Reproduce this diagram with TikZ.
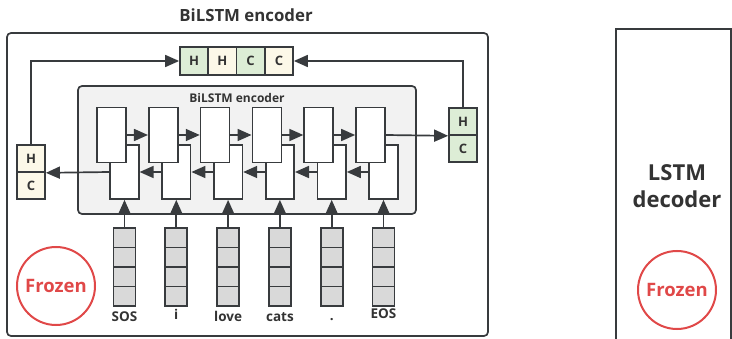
\documentclass[tikz,border=0pt]{standalone}
\usepackage{fontspec}
\setmainfont{Open Sans}
\usetikzlibrary{arrows.meta}
\definecolor{ink}{HTML}{333333}
\definecolor{edge}{HTML}{383B3E}
\definecolor{hgreen}{HTML}{DDEDD6}
\definecolor{hcream}{HTML}{FCF8E8}
\definecolor{panel}{HTML}{F2F2F2}
\definecolor{embed}{HTML}{D9D9D9}
\definecolor{frost}{HTML}{E04848}
\begin{document}
\begin{tikzpicture}[x=1pt,y=-1pt,
  every node/.style={font=\bfseries, text=ink, inner sep=0pt},
  frame/.style={draw=edge, line width=1.7pt},
  cellbox/.style={frame, fill=white, minimum width=29pt, minimum height=55pt},
  gatebox/.style={frame, minimum width=28pt, minimum height=27pt, font=\bfseries\fontsize{13}{15}\selectfont},
  greenbox/.style={gatebox, fill=hgreen},
  creambox/.style={gatebox, fill=hcream},
  topbox/.style={frame, minimum width=28.25pt, minimum height=28pt, font=\bfseries\fontsize{13}{15}\selectfont},
  embbox/.style={frame, fill=embed, minimum width=22pt, minimum height=19.5pt},
  word/.style={anchor=base, font=\bfseries\fontsize{13.5}{15}\selectfont},
  frozen/.style={circle, draw=frost, line width=2pt, minimum size=78pt, text=frost, font=\bfseries\fontsize{18.5}{21}\selectfont},
  arr/.style={draw=edge, line width=1.7pt, -{Triangle[length=14pt,width=12pt]}},
]
\useasboundingbox (0,0) rectangle (732,339);

% outer encoder frame and its title
\node (enc) [frame, rounded corners=4pt, minimum width=481pt, minimum height=303pt] at (247.5,184.5) {};
\node (enctitle) at (246,15) {\fontsize{16.8}{19}\selectfont BiLSTM encoder};

% inner BiLSTM panel
\node (inner) [frame, fill=panel, rounded corners=4pt, minimum width=338pt, minimum height=128pt] at (247,150) {};
\node (innertitle) at (237,98) {\fontsize{12}{14}\selectfont BiLSTM encoder};

% backward cells first, forward cells on top
\foreach \i in {0,...,5} {
  \node (b\i) [cellbox, minimum width=28.5pt, minimum height=54pt] at ({124.5+51.8*\i},172) {};
}
\foreach \i in {0,...,5} {
  \node (f\i) [cellbox] at ({111.5+51.8*\i},135) {};
}

% recurrent connections
\foreach \i [evaluate=\i as \j using int(\i+1)] in {0,...,4} {
  \draw[arr] (f\i.east) -- (f\j.west);
  \draw[arr] (b\j.west) -- (b\i.east);
}

% final states
\node (hlH) [creambox] at (31,158.5) {H};
\node (hlC) [creambox] at (31,185.5) {C};
\node (hrH) [greenbox] at (463,121.5) {H};
\node (hrC) [greenbox] at (463,148.5) {C};

\draw[arr] (b0.west) -- (hlH.south east);
\draw[arr] (f5.east) -- (hrH.south west);

% concatenated state
\node (t1) [topbox, fill=hgreen] at (194.1,61) {H};
\node (t2) [topbox, fill=hcream] at (222.4,61) {H};
\node (t3) [topbox, fill=hgreen] at (250.6,61) {C};
\node (t4) [topbox, fill=hcream] at (278.9,61) {C};

\draw[arr] (hlH.north) |- (t1.west);
\draw[arr] (hrH.north) |- (t4.east);

% word embeddings
\foreach \i in {0,...,5} {
  \foreach \k in {0,...,3} {
    \node (e\i\k) [embbox] at ({124.5+51.8*\i},{228+19.5*(\k+0.5)}) {};
  }
  \draw[arr] (e\i0.north) -- (b\i.south);
}

% tokens
\node (w0) [word] at (e03.south |- 0,322) {SOS};
\node (w1) [word] at (e13.south |- 0,320) {i};
\node (w2) [word] at (e23.south |- 0,322) {love};
\node (w3) [word] at (e33.south |- 0,322) {cats};
\node (w4) [word] at (e43.south |- 0,321) {.};
\node (w5) [word] at (e53.south |- 0,319) {EOS};

\node (frzL) [frozen] at (56,286) {Frozen};

% decoder
\node (dec) [frame, minimum width=115pt, minimum height=330pt] at (673.5,194) {};
\node (dectitle) [align=center, font=\bfseries\fontsize{22}{27}\selectfont] at (677,186) {LSTM\\decoder};
\node (frzR) [frozen] at (677,290) {Frozen};
\end{tikzpicture}
\end{document}
